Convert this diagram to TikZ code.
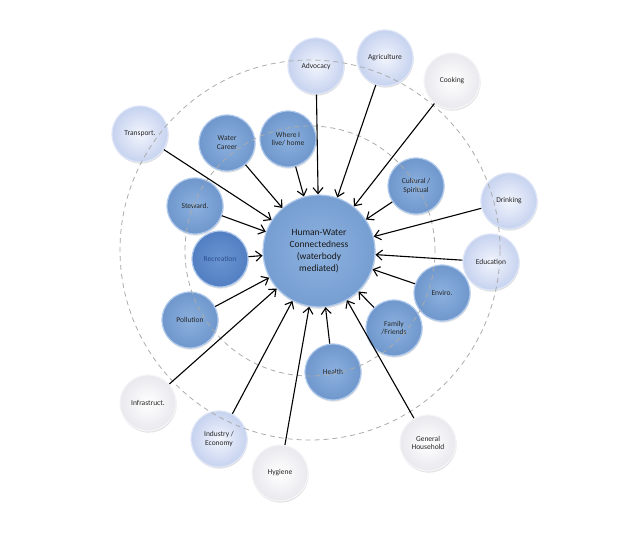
\documentclass[tikz,border=0pt]{standalone}
\usepackage{fontspec}
\setmainfont{Carlito}
\usetikzlibrary{arrows.meta,shadows}
\definecolor{mainin}{HTML}{8DB2E0}
\definecolor{mainout}{HTML}{769ED1}
\definecolor{dbin}{HTML}{8CB1DF}
\definecolor{dbout}{HTML}{6F97CC}
\definecolor{dbrim}{HTML}{AFC9EC}
\definecolor{recin}{HTML}{6A94D2}
\definecolor{recout}{HTML}{527FC2}
\definecolor{rectext}{HTML}{2B4E8C}
\definecolor{lbin}{HTML}{F2F5FD}
\definecolor{lbout}{HTML}{C6D2EF}
\definecolor{lbrim}{HTML}{DDE5F7}
\definecolor{wbin}{HTML}{FFFFFF}
\definecolor{wbout}{HTML}{E9E9EE}
\definecolor{wbrim}{HTML}{F6F6F8}
\definecolor{dashgray}{HTML}{ABABAB}
\begin{document}
\begin{tikzpicture}[x=1pt,y=-1pt,
  bub/.style={circle, minimum size=56pt, inner sep=0pt, align=center,
    font=\fontsize{7.5}{8.8}\selectfont, text=black!85,
    drop shadow={shadow xshift=0.6pt, shadow yshift=-1.6pt, opacity=0.2, fill=black!60}},
  darkb/.style={bub, draw=dbrim, line width=1.2pt, inner color=dbin, outer color=dbout},
  recb/.style={bub, draw=dbrim, line width=1.2pt, inner color=recin, outer color=recout, text=rectext},
  lightb/.style={bub, draw=lbrim, line width=1.2pt, inner color=lbin, outer color=lbout},
  whiteb/.style={bub, draw=wbrim, line width=1.2pt, inner color=wbin, outer color=wbout},
  mainb/.style={circle, minimum size=112pt, inner sep=0pt, align=center,
    font=\fontsize{9.5}{12}\selectfont, text=black!90, draw=dbrim, line width=1.2pt,
    inner color=mainin, outer color=mainout,
    drop shadow={shadow xshift=0.6pt, shadow yshift=-1.8pt, opacity=0.2, fill=black!60}},
  conn/.style={draw=black, line width=1.1pt, -{Straight Barb[length=6pt,width=10pt,line width=1.1pt]}},
  dashc/.style={draw=dashgray, line width=0.8pt, dash pattern=on 5pt off 4pt}
]
\useasboundingbox (0,0) rectangle (644,538);

% central node
\node[mainb] (main) at (319,251) {Human-Water\\Connectedness\\(waterbody\\mediated)};

% inner (dark blue) nodes
\node[darkb] (wc) at (227,143) {Water\\Career};
\node[darkb] (home) at (288,139) {Where I\\live/ home};
\node[darkb] (stew) at (195,206) {Steward.};
\node[recb] (rec) at (220,259) {Recreation};
\node[darkb] (cult) at (416,186) {Cultural /\\Spiritual};
\node[darkb] (env) at (442,293) {Enviro.};
\node[darkb] (fam) at (394,328) {Family\\/Friends};
\node[darkb] (health) at (333,372) {Health};
\node[darkb] (poll) at (190,320) {Pollution};

% light blue nodes
\node[lightb] (trans) at (140,134) {Transport.};
\node[lightb] (adv) at (316,66) {Advocacy};
\node[lightb] (agr) at (385,58) {Agriculture};
\node[lightb] (drink) at (509,201) {Drinking};
\node[lightb] (edu) at (491,262) {Education};
\node[lightb] (ind) at (219,439) {Industry /\\Economy};

% white nodes
\node[whiteb] (cook) at (452,81) {Cooking};
\node[whiteb] (infra) at (148,403) {Infrastruct.};
\node[whiteb] (hyg) at (280,473) {Hygiene};
\node[whiteb] (gen) at (428,443) {General\\Household};

% dashed rings
\coordinate (ringc) at (310,250);
\draw[dashc] (ringc) circle[radius=190pt];
\draw[dashc] (310,251) circle[radius=125pt];

% connectors
\foreach \s in {wc,home,stew,rec,cult,env,fam,health,poll,trans,adv,agr,drink,edu,ind,cook,infra,hyg,gen}
  \draw[conn] (\s) -- (main);
\end{tikzpicture}
\end{document}
